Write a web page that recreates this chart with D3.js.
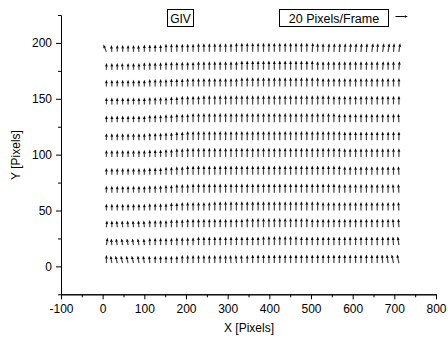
<!DOCTYPE html>
<html>
<head>
<meta charset="utf-8">
<script src="https://cdn.jsdelivr.net/npm/d3@7"></script>
<style>
body { margin: 0; background: #fff; }
svg text { font-family: "Liberation Sans", Arial, sans-serif; fill: #000; }
</style>
</head>
<body>
<script>
// tick values
var xTicks = [-100, 0, 100, 200, 300, 400, 500, 600, 700, 800];
var xMinor = [-50, 50, 150, 250, 350, 450, 550, 650, 750];
var yTicks = [0, 50, 100, 150, 200];
var yMinor = [-25, 25, 75, 125, 175, 225];

// grid of the vector field (pixels)
var xGrid = [9, 22, 35, 48, 61, 74, 87, 100, 113, 126, 139, 152, 165, 178, 191, 204, 217, 230, 243, 256,
	269, 282, 295, 308, 321, 334, 347, 360, 373, 386, 399, 412, 425, 438, 451, 464, 477, 490, 503, 516,
	529, 542, 555, 568, 581, 594, 607, 620, 633, 646, 659, 672, 685, 698, 711];
var yGrid = [192, 176, 161, 145, 129, 113, 98, 82, 66, 50, 35, 19, 3];

// horizontal displacement (pixels/frame), one row per yGrid value
var uRows = [
	[-5,-1, 0, 0, 0, 0,-1, 0, 0, 0, 0,  0, 0, 0, 0, 0, 0, 0, 0, 0, 0, 0,  0, 0, 0, 0, 0, 0, 0, 0, 0, 0, 0,  0, 0, 0, 0, 0, 1, 0, 0, 1, 1, 1,  1, 1, 1, 1, 1, 2, 1, 2, 2, 1, 2],
	[ 0, 0, 0,-1, 0, 0, 0, 0, 0, 0, 0,  0, 0, 0, 0, 0, 0, 0, 0, 0, 0, 0,  0, 0, 0, 0, 0, 0, 0, 0, 0, 0, 0,  0, 0, 0, 0, 0, 0, 0, 0, 0, 0, 0,  0, 0, 0, 0, 0, 0, 0, 1, 0, 0, 1],
	[ 0, 0, 0, 0, 0, 0, 0, 0, 0, 0, 0,  0, 0, 0, 0, 0, 0, 0, 0, 0, 0, 0,  0, 0, 0, 0, 0, 0, 0, 0, 0, 0, 0,  0, 0, 0, 0, 0, 0, 0, 0, 0, 0, 0,  0, 0, 0, 0, 0, 0, 0, 0, 0, 0, 0],
	[ 0, 0, 0, 0, 0, 0, 0, 0, 0, 0, 0,  0, 0, 0, 0, 0, 0, 0, 0, 0, 0, 0,  0, 0, 0, 0, 0, 0, 0, 0, 0, 0, 0,  0, 0, 0, 0, 0, 0, 0, 0, 0, 0, 0,  0, 0, 0, 0, 0, 0, 0, 0, 0, 0, 0],
	[ 0, 0, 0, 0, 0, 0, 0, 0, 0, 0, 0,  0, 0, 0, 0, 0, 0, 0, 0, 0, 0, 0,  0, 0, 0, 0, 0, 0, 0, 0, 0, 0, 0,  0, 0, 0, 0, 0, 0, 0, 0, 0, 0, 0,  0, 0, 0, 0, 0, 0, 0, 0, 0, 0,-1],
	[ 0, 0, 0, 0, 0, 0, 0, 0, 0, 0, 0,  0, 0, 0, 0, 0, 0, 0, 0, 0, 0, 0,  0, 0, 0, 0, 0, 0, 0, 0, 0, 0, 0,  0, 0, 0, 0, 0, 0, 0, 0, 0, 0, 0,  0, 0, 0, 0, 0, 0, 0, 0, 0, 0, 0],
	[ 0, 0, 0, 0, 0, 0, 0, 0, 0, 0, 0,  0, 0, 0, 0, 0, 0, 0, 0, 0, 0, 0,  0, 0, 0, 0, 0, 0, 0, 0, 0, 0, 0,  0, 0, 0, 0, 0, 0, 0, 0, 0, 0, 0,  0, 0, 0, 0, 0, 0, 0, 0, 0, 0, 0],
	[ 0, 0, 0, 0, 0, 0, 0, 0, 0, 0, 0,  0, 0, 0, 0, 0, 0, 0, 0, 0, 0, 0,  0, 0, 0, 0, 0, 0, 0, 0, 0, 0, 0,  0, 0, 0, 0, 0, 0, 0, 0, 0, 0, 0,  0, 0, 0, 0, 0, 0, 0, 0, 0, 0,-1],
	[ 0, 0, 0, 0, 0, 0, 0, 0, 0, 0, 0,  0, 0, 0, 0, 0, 0, 0, 0, 0, 0, 0,  0, 0, 0, 0, 0, 0, 0, 0, 0, 0, 0,  0, 0, 0, 0, 0, 0, 0, 0, 0, 0, 0,  0, 0, 0, 0, 0, 0, 0, 0, 0,-1,-1],
	[ 0, 0, 0, 0, 0, 0, 0, 0, 0, 0, 0,  0, 0, 0, 0, 0, 0, 0, 0, 0, 0, 0,  0, 0, 0, 0, 0, 0, 0, 0, 0, 0, 0,  0, 0, 0, 0, 0, 0, 0, 0, 0, 0, 0,  0, 0, 0, 0, 0, 0, 0, 0, 0, 0,-1],
	[ 1, 0,-1,-1,-1,-1,-1,-1, 0, 0, 0,  0, 0, 0, 0, 0, 0, 0, 0, 0, 0, 0,  0, 0, 0, 0, 0, 0, 0, 0, 0, 0, 0,  0, 0, 0, 0, 0, 0, 0, 0, 0, 0, 0,  0, 0, 0, 0, 0, 0, 0, 0, 0,-1,-1],
	[ 2,-1,-2,-2,-2,-2,-2,-1, 0, 0, 0,  0, 0, 0, 0, 0, 0, 0, 0, 0, 0, 0,  0, 0, 0, 0, 0, 0, 0, 0, 0, 0, 0,  0, 0, 0, 0, 0, 0, 0, 0, 0, 0, 0,  0, 0, 0, 0, 0, 0, 0, 0, 0,-1,-2],
	[ 0,-2,-3,-3,-3,-3,-2,-2,-1, 0, 0,  0, 0, 0, 0, 0, 0, 0, 0, 0, 0, 0,  0,-1,-1,-1, 0, 0, 0, 0, 0, 0, 0,  0, 0, 0, 0, 0, 0, 0, 0, 0, 0, 0,  0, 0, 0, 0, 0, 0, 0,-1,-2,-3,-3]
];

// vertical displacement (pixels/frame), one row per yGrid value
var vRows = [
	[12,11,11,11,11,11,11,12,12,12,12, 13,13,13,13,13,13,14,14,14,14,14, 14,14,15,15,15,15,15,15,15,15,15, 15,15,15,15,15,15,14,14,14,14,14, 14,14,14,14,14,14,14,14,14,14,14],
	[11,11,11,11,11,11,11,12,12,12,12, 13,13,13,13,13,13,14,14,14,14,14, 14,14,14,15,15,15,15,15,15,15,15, 15,15,15,15,15,15,14,14,14,14,14, 14,14,14,14,14,14,14,14,14,14,14],
	[11,11,11,11,11,11,11,11,12,12,12, 12,13,13,13,14,14,14,14,14,14,14, 14,14,14,15,15,15,15,15,15,15,15, 15,15,15,15,15,15,15,14,14,14,14, 14,14,14,14,14,14,14,14,14,14,14],
	[11,11,11,11,11,11,11,11,12,12,12, 12,13,13,14,14,14,14,15,15,15,15, 15,15,15,15,15,15,15,15,15,15,15, 15,15,15,15,15,15,15,15,15,14,14, 14,14,14,14,14,14,14,14,14,14,14],
	[11,11,11,11,11,11,11,11,12,12,12, 13,13,14,14,14,15,15,15,15,15,15, 15,15,15,15,15,15,15,15,15,15,15, 15,15,15,15,15,15,15,15,15,15,14, 14,14,14,14,14,14,14,14,14,14,14],
	[11,11,11,11,11,11,11,11,12,12,12, 13,13,14,14,15,15,15,15,15,15,15, 15,15,15,15,15,15,15,15,15,15,15, 15,15,15,15,15,15,15,15,15,15,15, 14,14,14,14,14,14,14,14,14,14,14],
	[11,11,11,11,11,11,11,11,12,12,12, 13,13,14,14,15,15,15,15,15,15,15, 15,15,15,15,15,15,15,15,15,15,15, 15,15,15,15,15,15,15,15,15,15,15, 14,14,14,14,14,14,14,14,14,14,14],
	[11,11,11,11,11,11,11,11,12,12,12, 13,13,14,14,15,15,15,15,15,15,15, 15,15,15,15,15,15,15,15,15,15,15, 15,15,15,15,15,15,15,15,15,15,15, 14,14,14,14,14,14,14,14,14,14,14],
	[11,11,11,11,11,11,11,11,12,12,12, 13,13,14,14,14,15,15,15,15,15,15, 15,15,15,15,15,15,15,15,15,15,15, 15,15,15,15,15,15,15,15,15,15,14, 14,14,14,14,14,14,14,14,14,14,14],
	[11,11,11,11,11,11,11,11,12,12,12, 12,13,13,14,14,14,14,14,14,15,15, 15,15,15,15,15,15,15,15,15,15,15, 15,15,15,15,15,15,15,14,14,14,14, 14,14,14,14,14,14,14,14,14,14,14],
	[11,11,11,11,11,11,11,11,12,12,12, 12,13,13,13,14,14,14,14,14,14,14, 14,14,14,14,15,15,15,15,15,15,15, 15,15,15,15,15,14,14,14,14,14,14, 14,14,14,14,14,14,14,14,14,14,14],
	[12,11,11,11,11,11,11,11,12,12,12, 12,12,13,13,13,13,14,14,14,14,14, 14,14,14,14,14,14,14,15,15,15,15, 15,15,15,14,14,14,14,14,14,14,14, 14,14,14,14,14,14,14,14,14,14,14],
	[13,12,12,12,12,12,12,12,12,12,12, 12,12,12,13,13,13,13,13,13,13,13, 13,13,13,13,13,14,14,14,14,14,14, 14,14,14,14,14,14,14,14,14,14,14, 14,14,14,14,14,14,14,14,14,14,14]
];

var legendValue = 20;   // pixels/frame of the key arrow

var width = 448, height = 338;
var svg = d3.select("body")
	.append("svg")
		.attr("width", width)
		.attr("height", height);

var x = d3.scaleLinear().domain([-100, 800]).range([61, 436]);
var y = d3.scaleLinear().domain([-25, 225]).range([294.3, 15]);
var k = 12.3 / legendValue;   // screen px per pixel/frame

function plain(d) { return String(d); }

// axes
svg.append("g")
		.attr("transform", "translate(0," + y(-25) + ")")
		.call(d3.axisBottom(x).tickValues(xMinor).tickSize(3).tickSizeOuter(0).tickFormat(""));
svg.append("g")
		.attr("transform", "translate(0," + y(-25) + ")")
		.call(d3.axisBottom(x).tickValues(xTicks).tickSize(5).tickSizeOuter(0).tickPadding(5)
			.tickFormat(plain));
svg.append("g")
		.attr("transform", "translate(" + x(-100) + ",0)")
		.call(d3.axisLeft(y).tickValues(yMinor).tickSize(3).tickSizeOuter(0).tickFormat(""));
svg.append("g")
		.attr("transform", "translate(" + x(-100) + ",0)")
		.call(d3.axisLeft(y).tickValues(yTicks).tickSize(5).tickSizeOuter(0).tickPadding(4)
			.tickFormat(plain));

svg.selectAll(".domain, .tick line")
		.attr("stroke", "#000")
		.attr("stroke-width", 1);
svg.selectAll(".tick text")
		.attr("font-size", "12px")
		.attr("font-family", "Liberation Sans, Arial, sans-serif")
		.attr("fill", "#000");

svg.append("text")
		.attr("x", 249)
		.attr("y", 332)
		.attr("text-anchor", "middle")
		.attr("font-size", "12px")
		.text("X [Pixels]");
svg.append("text")
		.attr("transform", "translate(20,155) rotate(-90)")
		.attr("text-anchor", "middle")
		.attr("font-size", "12px")
		.text("Y [Pixels]");

// vectors
var vectors = [];
yGrid.forEach(function(gy, j) {
	xGrid.forEach(function(gx, i) {
		vectors.push({ x: gx, y: gy, u: uRows[j][i], v: vRows[j][i] });
	});
});

function arrow(x0, y0, dx, dy, headLen, headHalf) {
	var len = Math.sqrt(dx * dx + dy * dy);
	var ux = dx / len, uy = dy / len;
	var tx = x0 + dx, ty = y0 + dy;
	var bx = tx - ux * headLen, by = ty - uy * headLen;
	return {
		shaft: [x0, y0, bx, by],
		head: [[tx, ty], [bx - uy * headHalf, by + ux * headHalf], [bx + uy * headHalf, by - ux * headHalf]]
	};
}

var field = svg.append("g").attr("class", "field");
vectors.forEach(function(d) {
	var a = arrow(x(d.x), y(d.y), d.u * k, -d.v * k, 3.5, 1.4);
	field.append("line")
			.attr("x1", a.shaft[0]).attr("y1", a.shaft[1])
			.attr("x2", a.shaft[2]).attr("y2", a.shaft[3])
			.attr("stroke", "#444")
			.attr("stroke-width", 1.2);
	field.append("polygon")
			.attr("points", a.head.map(function(p) { return p.join(","); }).join(" "))
			.attr("fill", "#000");
});

// labels
svg.append("rect")
		.attr("x", 167.5).attr("y", 9.5)
		.attr("width", 26).attr("height", 17)
		.attr("fill", "none").attr("stroke", "#000").attr("stroke-width", 1);
svg.append("text")
		.attr("x", 180.5).attr("y", 22.5)
		.attr("text-anchor", "middle")
		.attr("font-size", "12px")
		.text("GIV");

svg.append("rect")
		.attr("x", 279.5).attr("y", 9.5)
		.attr("width", 109).attr("height", 17)
		.attr("fill", "none").attr("stroke", "#000").attr("stroke-width", 1);
svg.append("text")
		.attr("x", 334).attr("y", 22.5)
		.attr("text-anchor", "middle")
		.attr("font-size", "12.5px")
		.text(legendValue + " Pixels/Frame");

var key = arrow(395.5, 16.5, legendValue * k, 0, 3, 1.3);
svg.append("line")
		.attr("x1", key.shaft[0]).attr("y1", key.shaft[1])
		.attr("x2", key.shaft[2]).attr("y2", key.shaft[3])
		.attr("stroke", "#000").attr("stroke-width", 1);
svg.append("polygon")
		.attr("points", key.head.map(function(p) { return p.join(","); }).join(" "))
		.attr("fill", "#000");
</script>
</body>
</html>
